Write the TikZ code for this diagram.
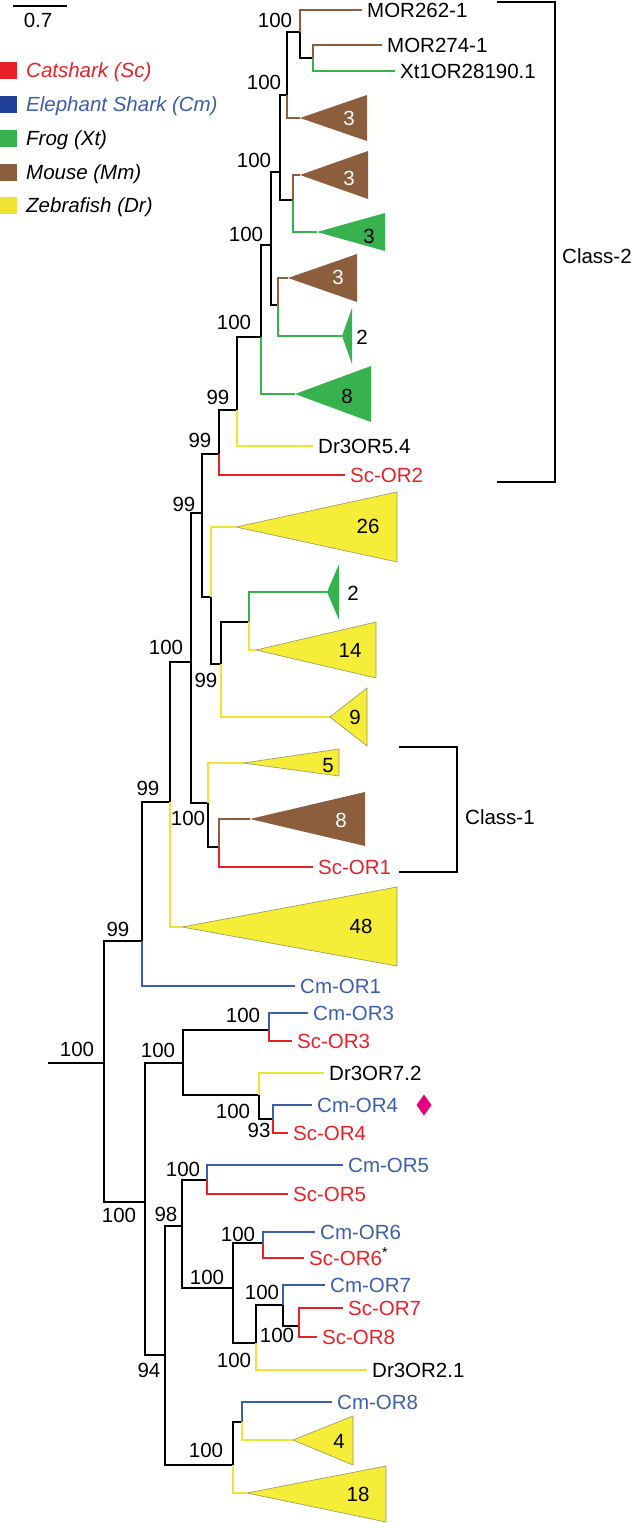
\documentclass[tikz,border=0pt]{standalone}
\usepackage{fontspec}
\setmainfont{Liberation Sans}
\usepackage{tikz}

\begin{document}
\begin{tikzpicture}[x=1pt,y=-1pt,
  every node/.style={font=\fontsize{20.5}{24}\selectfont},
  ek/.style={line width=2.8pt,draw=black},
  eSc/.style={line width=2.3pt,draw=cSc},
  eCm/.style={line width=2.3pt,draw=cCm},
  eXt/.style={line width=2.3pt,draw=cXt},
  eMm/.style={line width=2.3pt,draw=cMm},
  eDr/.style={line width=2.3pt,draw=cDr},
  leaf/.style={anchor=west,inner xsep=5pt,inner ysep=0pt,text height=14.7pt,text depth=0pt},
  bs/.style={inner sep=0pt,text height=14.7pt,text depth=0pt},
  key/.style={anchor=west,inner sep=0pt,minimum size=17pt},
  keytext/.style={anchor=west,inner sep=0pt,text height=14.7pt,text depth=0pt,font=\fontsize{20.5}{24}\selectfont\itshape},
  bracket/.style={line width=2.8pt,draw=black}]
\definecolor{cSc}{rgb}{0.91,0.13,0.16}
\definecolor{cCm}{rgb}{0.24,0.37,0.66}
\definecolor{cCmk}{rgb}{0.13,0.25,0.60}
\definecolor{cXt}{rgb}{0.22,0.70,0.31}
\definecolor{cMm}{rgb}{0.55,0.37,0.24}
\definecolor{cDr}{rgb}{0.94,0.89,0.20}
\definecolor{cfDr}{rgb}{0.96,0.93,0.22}
\definecolor{coDr}{rgb}{0.60,0.58,0.38}
\definecolor{cmg}{rgb}{0.90,0.00,0.50}
\useasboundingbox (0,0) rectangle (633,1523);
%
% scale bar and legend
\coordinate (sb0) at (13,6);
\coordinate (sb1) at (67,6);
\draw[line width=2.2pt] (sb0) -- (sb1);
\node[bs] (sbl) at (38,20) {0.7};
\node[key,fill=cSc] (kSc) at (0,70) {};
\node[key,fill=cCmk] (kCm) at (0,104) {};
\node[key,fill=cXt] (kXt) at (0,138) {};
\node[key,fill=cMm] (kMm) at (0,172) {};
\node[key,fill=cDr] (kDr) at (0,205) {};
\node[keytext,text=cSc] (tSc) at (26,70) {Catshark (Sc)};
\node[keytext,text=cCm] (tCm) at (26,104) {Elephant Shark (Cm)};
\node[keytext] (tXt) at (26,138) {Frog (Xt)};
\node[keytext] (tMm) at (26,172) {Mouse (Mm)};
\node[keytext] (tDr) at (26,205) {Zebrafish (Dr)};
%
% internal nodes
\coordinate (root) at (48,1063);
\coordinate (U) at (104,1063);
\coordinate (T) at (142,941);
\coordinate (Q) at (170,802);
\coordinate (P) at (191,662);
\coordinate (K) at (202,513);
\coordinate (J) at (219,454);
\coordinate (I) at (237,410);
\coordinate (H) at (261,337);
\coordinate (F) at (271,245);
\coordinate (D) at (280,172);
\coordinate (C) at (287,95);
\coordinate (A) at (300,32);
\coordinate (B) at (313,58);
\coordinate (E) at (293,200);
\coordinate (G) at (278,305);
\coordinate (L) at (211,597);
\coordinate (M) at (221,664);
\coordinate (N) at (249,622);
\coordinate (R) at (208,803);
\coordinate (S) at (219,847);
\coordinate (BB) at (145,1202);
\coordinate (W) at (183,1063);
\coordinate (V) at (269,1030);
\coordinate (X) at (259,1095);
\coordinate (Y) at (273,1119);
\coordinate (CC) at (165,1355);
\coordinate (AA) at (182,1226);
\coordinate (Z) at (207,1180);
\coordinate (FF) at (233,1288);
\coordinate (GG) at (263,1243);
\coordinate (HH) at (256,1343);
\coordinate (II) at (283,1305);
\coordinate (JJ) at (299,1326);
\coordinate (DD) at (233,1465);
\coordinate (EE) at (242,1422);
%
% leaves
\node[leaf] (MOR262) at (362,10) {MOR262-1};
\node[leaf] (MOR274) at (382,45) {MOR274-1};
\node[leaf] (Xt28190) at (395,71) {Xt1OR28190.1};
\node[leaf] (Dr54) at (313,446) {Dr3OR5.4};
\node[leaf,text=cSc] (ScOR2) at (345,475) {Sc-OR2};
\node[leaf,text=cSc] (ScOR1) at (313,867) {Sc-OR1};
\node[leaf,text=cCm] (CmOR1) at (295,986) {Cm-OR1};
\node[leaf,text=cCm] (CmOR3) at (308,1013) {Cm-OR3};
\node[leaf,text=cSc] (ScOR3) at (292,1041) {Sc-OR3};
\node[leaf] (Dr72) at (324,1073) {Dr3OR7.2};
\node[leaf,text=cCm] (CmOR4) at (312,1105) {Cm-OR4};
\node[leaf,text=cSc] (ScOR4) at (288,1133) {Sc-OR4};
\node[leaf,text=cCm] (CmOR5) at (343,1165) {Cm-OR5};
\node[leaf,text=cSc] (ScOR5) at (288,1194) {Sc-OR5};
\node[leaf,text=cCm] (CmOR6) at (315,1232) {Cm-OR6};
\node[leaf,text=cSc] (ScOR6) at (304,1258) {Sc-OR6\textsuperscript{\textcolor{black}{*}}};
\node[leaf,text=cCm] (CmOR7) at (325,1285) {Cm-OR7};
\node[leaf,text=cSc] (ScOR7) at (343,1308) {Sc-OR7};
\node[leaf,text=cSc] (ScOR8) at (317,1337) {Sc-OR8};
\node[leaf] (Dr21) at (367,1370) {Dr3OR2.1};
\node[leaf,text=cCm] (CmOR8) at (332,1402) {Cm-OR8};
%
% collapsed clades
\coordinate (tMm3a) at (300,118);
\coordinate (tMm3b) at (300,175);
\coordinate (tXt3) at (317,232);
\coordinate (tMm3c) at (288,278);
\coordinate (tXt2a) at (342,336);
\coordinate (tXt8) at (295,394);
\coordinate (tDr26) at (236,527);
\coordinate (tXt2b) at (327,592);
\coordinate (tDr14) at (256,650);
\coordinate (tDr9) at (330,717);
\coordinate (tDr5) at (243,763);
\coordinate (tMm8) at (250,819);
\coordinate (tDr48) at (182,927);
\coordinate (tDr4) at (293,1440);
\coordinate (tDr18) at (247,1493);
\fill[cMm] (tMm3a) -- ++(67,-23) -- ++(0,46) -- cycle;
\fill[cMm] (tMm3b) -- ++(68,-24) -- ++(0,48) -- cycle;
\fill[cXt] (tXt3) -- ++(68,-19) -- ++(0,38) -- cycle;
\fill[cMm] (tMm3c) -- ++(69,-24) -- ++(0,48) -- cycle;
\fill[cXt] (tXt2a) -- ++(10,-28) -- ++(0,56) -- cycle;
\fill[cXt] (tXt8) -- ++(76,-28) -- ++(0,56) -- cycle;
\filldraw[fill=cfDr,draw=coDr,line width=0.6pt] (tDr26) -- ++(161,-35) -- ++(0,70) -- cycle;
\fill[cXt] (tXt2b) -- ++(12,-28) -- ++(0,56) -- cycle;
\filldraw[fill=cfDr,draw=coDr,line width=0.6pt] (tDr14) -- ++(120,-28) -- ++(0,56) -- cycle;
\filldraw[fill=cfDr,draw=coDr,line width=0.6pt] (tDr9) -- ++(37,-29) -- ++(0,58) -- cycle;
\filldraw[fill=cfDr,draw=coDr,line width=0.6pt] (tDr5) -- ++(96,-14) -- ++(0,27) -- cycle;
\fill[cMm] (tMm8) -- ++(115,-27) -- ++(0,54) -- cycle;
\filldraw[fill=cfDr,draw=coDr,line width=0.6pt] (tDr48) -- ++(215,-40) -- ++(0,79) -- cycle;
\filldraw[fill=cfDr,draw=coDr,line width=0.6pt] (tDr4) -- ++(60,-24) -- ++(0,49) -- cycle;
\filldraw[fill=cfDr,draw=coDr,line width=0.6pt] (tDr18) -- ++(139,-27) -- ++(0,56) -- cycle;
\node[bs,text=white] (nMm3a) at (349,118) {3};
\node[bs,text=white] (nMm3b) at (349,178) {3};
\node[bs] (nXt3) at (369,236) {3};
\node[bs,text=white] (nMm3c) at (338,277) {3};
\node[bs] (nXt2a) at (362,337) {2};
\node[bs] (nXt8) at (347,396) {8};
\node[bs] (nDr26) at (368,526) {26};
\node[bs] (nXt2b) at (353,593) {2};
\node[bs] (nDr14) at (350,650) {14};
\node[bs] (nDr9) at (355,717) {9};
\node[bs] (nDr5) at (328,765) {5};
\node[bs,text=white] (nMm8) at (341,820) {8};
\node[bs] (nDr48) at (361,926) {48};
\node[bs] (nDr4) at (339,1441) {4};
\node[bs] (nDr18) at (358,1494) {18};
%
% edges
\draw[ek] (root) -- (U);
\draw[ek] (U) |- (T);
\draw[ek] (U) |- (BB);
\draw[ek] (T) |- (Q);
\draw[eCm] (T) |- (CmOR1.west);
\draw[ek] (Q) |- (P);
\draw[eDr] (Q) |- (tDr48);
\draw[ek] (P) |- (K);
\draw[ek] (P) |- (R);
\draw[ek] (K) |- (J);
\draw[ek] (K) |- (L);
\draw[ek] (J) |- (I);
\draw[eSc] (J) |- (ScOR2.west);
\draw[ek] (I) |- (H);
\draw[eDr] (I) |- (Dr54.west);
\draw[ek] (H) |- (F);
\draw[eXt] (H) |- (tXt8);
\draw[ek] (F) |- (D);
\draw[ek] (F) |- (G);
\draw[ek] (D) |- (C);
\draw[ek] (D) |- (E);
\draw[ek] (C) |- (A);
\draw[eMm] (C) |- (tMm3a);
\draw[eMm] (A) |- (MOR262.west);
\draw[ek] (A) |- (B);
\draw[eMm] (B) |- (MOR274.west);
\draw[eXt] (B) |- (Xt28190.west);
\draw[eMm] (E) |- (tMm3b);
\draw[eXt] (E) |- (tXt3);
\draw[eMm] (G) |- (tMm3c);
\draw[eXt] (G) |- (tXt2a);
\draw[eDr] (L) |- (tDr26);
\draw[ek] (L) |- (M);
\draw[ek] (M) |- (N);
\draw[eDr] (M) |- (tDr9);
\draw[eXt] (N) |- (tXt2b);
\draw[eDr] (N) |- (tDr14);
\draw[eDr] (R) |- (tDr5);
\draw[ek] (R) |- (S);
\draw[eMm] (S) |- (tMm8);
\draw[eSc] (S) |- (ScOR1.west);
\draw[ek] (BB) |- (W);
\draw[ek] (BB) |- (CC);
\draw[ek] (W) |- (V);
\draw[ek] (W) |- (X);
\draw[eCm] (V) |- (CmOR3.west);
\draw[eSc] (V) |- (ScOR3.west);
\draw[eDr] (X) |- (Dr72.west);
\draw[ek] (X) |- (Y);
\draw[eCm] (Y) |- (CmOR4.west);
\draw[eSc] (Y) |- (ScOR4.west);
\draw[ek] (CC) |- (AA);
\draw[ek] (CC) |- (DD);
\draw[ek] (AA) |- (Z);
\draw[ek] (AA) |- (FF);
\draw[eCm] (Z) |- (CmOR5.west);
\draw[eSc] (Z) |- (ScOR5.west);
\draw[ek] (FF) |- (GG);
\draw[ek] (FF) |- (HH);
\draw[eCm] (GG) |- (CmOR6.west);
\draw[eSc] (GG) |- (ScOR6.west);
\draw[ek] (HH) |- (II);
\draw[eDr] (HH) |- (Dr21.west);
\draw[eCm] (II) |- (CmOR7.west);
\draw[ek] (II) |- (JJ);
\draw[eSc] (JJ) |- (ScOR7.west);
\draw[eSc] (JJ) |- (ScOR8.west);
\draw[ek] (DD) |- (EE);
\draw[eDr] (DD) |- (tDr18);
\draw[eCm] (EE) |- (CmOR8.west);
\draw[eDr] (EE) |- (tDr4);
%
% support values
\node[bs] (bA) at (275,20) {100};
\node[bs] (bC) at (264,82) {100};
\node[bs] (bD) at (254,160) {100};
\node[bs] (bF) at (246,234) {100};
\node[bs] (bH) at (234,322) {100};
\node[bs] (bI) at (218,397) {99};
\node[bs] (bJ) at (200,440) {99};
\node[bs] (bK) at (184,504) {99};
\node[bs] (bP) at (166,647) {100};
\node[bs] (bM) at (206,680) {99};
\node[bs] (bQ) at (148,788) {99};
\node[bs] (bR) at (188,818) {100};
\node[bs] (bT) at (118,929) {99};
\node[bs] (bU) at (77,1049) {100};
\node[bs] (bW) at (158,1050) {100};
\node[bs] (bV) at (243,1015) {100};
\node[bs] (bX) at (233,1111) {100};
\node[bs] (bY) at (259,1130) {93};
\node[bs] (bZ) at (183,1169) {100};
\node[bs] (bBB) at (119,1215) {100};
\node[bs] (bAA) at (166,1214) {98};
\node[bs] (bGG) at (238,1234) {100};
\node[bs] (bFF) at (207,1277) {100};
\node[bs] (bII) at (262,1292) {100};
\node[bs] (bJJ) at (277,1335) {100};
\node[bs] (bHH) at (234,1360) {100};
\node[bs] (bCC) at (149,1370) {94};
\node[bs] (bDD) at (206,1450) {100};
%
% diamond mark
\coordinate (dmd) at (424,1105);
\fill[cmg] (dmd) ++(0,-10.5) -- ++(7.5,10.5) -- ++(-7.5,10.5) -- ++(-7.5,-10.5) -- cycle;
%
% class brackets
\coordinate (c2a) at (497,2);
\coordinate (c2b) at (497,482);
\coordinate (c1a) at (399,747);
\coordinate (c1b) at (399,872);
\draw[bracket] (c2a) -- ++(58,0) |- (c2b);
\draw[bracket] (c1a) -- ++(58,0) |- (c1b);
\node[leaf,inner xsep=0pt] (cl2) at (562,256) {Class-2};
\node[leaf,inner xsep=0pt] (cl1) at (465,817) {Class-1};
%
\end{tikzpicture}
\end{document}
